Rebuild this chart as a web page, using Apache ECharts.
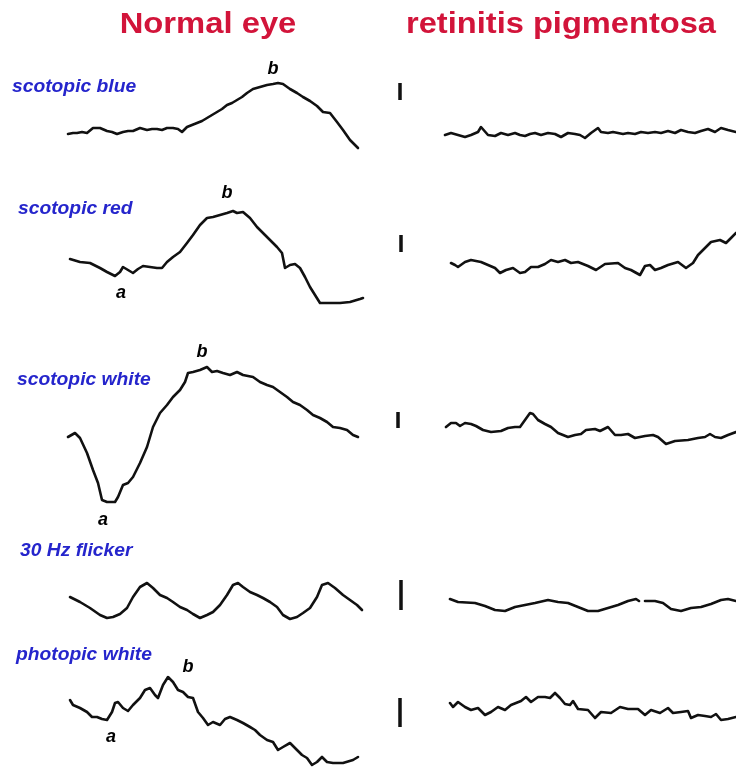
<!DOCTYPE html>
<html>
<head>
<meta charset="utf-8">
<script src="https://cdn.jsdelivr.net/npm/echarts@6/dist/echarts.min.js"></script>
<style>
html,body{margin:0;padding:0;background:#fff;}
#chart{width:736px;height:767px;}
</style>
</head>
<body>
<div id="chart"></div>
<script>
// Column headers and row (stimulus) names
const columnTitles = ['Normal eye', 'retinitis pigmentosa'];
const stimuli = ['scotopic blue', 'scotopic red', 'scotopic white', '30 Hz flicker', 'photopic white'];

// Traces: [time (samples), amplitude (arb. units)]
const blueNormal = [[0,-4],[5,-3],[9,-3],[14,-2],[19,-3],[25,2],[32,2],[39,-1],[44,-2],[49,-4],[55,-2],[60,-1],[65,-1],[72,2],[79,0],[84,1],[89,1],[94,0],[99,2],[105,2],[110,1],[114,-2],[119,3],[124,5],[129,7],[134,9],[139,12],[144,15],[149,18],[154,21],[159,25],[164,27],[169,30],[174,33],[179,37],[185,41],[192,43],[199,45],[205,46],[210,47],[215,46],[222,41],[229,37],[235,33],[242,29],[249,24],[255,18],[262,17],[269,8],[275,0],[282,-10],[290,-18]];
const blueRP = [[-2,-5],[4,-3],[11,-5],[18,-7],[24,-5],[31,-2],[34,3],[41,-5],[48,-6],[54,-3],[61,-5],[68,-3],[73,-5],[78,-6],[83,-4],[88,-3],[94,-5],[101,-3],[108,-4],[114,-7],[121,-3],[128,-4],[133,-5],[138,-8],[144,-3],[151,2],[154,-2],[161,-3],[166,-2],[171,-3],[176,-4],[181,-3],[188,-4],[194,-2],[201,-3],[208,-2],[214,-3],[221,-1],[228,-3],[234,0],[241,-2],[248,-3],[254,-1],[261,1],[268,-2],[274,2],[281,0],[289,-2]];
const redNormal = [[2,6],[12,3],[22,2],[32,-3],[39,-7],[47,-11],[52,-7],[55,-2],[60,-5],[65,-8],[70,-4],[75,-1],[82,-2],[89,-3],[94,-3],[99,3],[105,8],[112,13],[119,22],[125,30],[132,40],[139,47],[145,48],[152,50],[159,52],[165,54],[169,52],[175,53],[182,47],[189,38],[195,32],[202,25],[209,18],[214,12],[217,-3],[222,0],[227,1],[232,-3],[237,-12],[242,-22],[247,-30],[252,-38],[262,-38],[272,-38],[282,-37],[292,-34],[295,-33]];
const redRP = [[4,2],[8,0],[11,-2],[18,3],[24,5],[34,3],[41,0],[48,-3],[53,-8],[59,-5],[66,-3],[73,-8],[78,-7],[84,-2],[91,-2],[98,1],[104,5],[111,3],[118,5],[124,2],[131,3],[141,-1],[149,-5],[158,1],[171,2],[178,-3],[184,-5],[193,-10],[198,-1],[203,0],[208,-5],[214,-3],[221,0],[231,3],[239,-3],[246,2],[251,10],[258,17],[264,23],[273,25],[279,22],[284,27],[289,32]];
const whiteNormal = [[0,-7],[7,-3],[12,-8],[19,-23],[25,-40],[30,-53],[34,-70],[39,-72],[47,-72],[50,-67],[55,-55],[60,-53],[65,-47],[72,-33],[79,-17],[85,3],[92,17],[99,25],[105,33],[112,40],[117,48],[120,57],[125,58],[132,60],[139,63],[144,58],[149,59],[155,57],[162,55],[169,58],[175,55],[185,53],[192,48],[199,45],[205,43],[212,38],[219,33],[225,28],[232,25],[239,20],[245,15],[252,12],[259,8],[265,3],[272,2],[279,0],[285,-5],[290,-7]];
const whiteRP = [[-1,3],[4,7],[9,7],[13,4],[18,7],[24,6],[29,4],[36,0],[44,-2],[54,-1],[61,2],[68,3],[73,3],[78,10],[83,17],[86,16],[91,10],[98,6],[104,3],[111,-3],[121,-7],[128,-5],[134,-4],[139,0],[148,1],[153,-1],[161,3],[168,-5],[174,-5],[181,-4],[188,-8],[198,-6],[206,-5],[211,-7],[219,-14],[228,-11],[241,-10],[251,-8],[258,-7],[263,-4],[268,-7],[274,-8],[281,-5],[289,-2]];
const flickerNormal = [[2,3],[12,-2],[22,-8],[32,-15],[39,-18],[45,-17],[52,-14],[59,-8],[65,3],[72,13],[79,17],[85,12],[92,5],[99,2],[105,-2],[112,-7],[119,-10],[125,-14],[132,-18],[139,-15],[145,-12],[152,-5],[159,5],[165,15],[170,17],[175,13],[182,8],[189,5],[195,2],[202,-2],[209,-7],[215,-15],[222,-19],[229,-17],[235,-13],[242,-8],[249,3],[254,15],[260,17],[267,12],[275,5],[282,0],[289,-5],[294,-10]];
const flickerRP = [[3,1],[11,-2],[28,-3],[38,-6],[48,-10],[58,-11],[68,-7],[78,-5],[88,-3],[101,0],[111,-2],[121,-3],[131,-7],[141,-11],[151,-11],[161,-8],[171,-5],[181,-1],[189,1],[192,-1],null,[198,-1],[208,-1],[216,-3],[224,-9],[234,-11],[244,-8],[254,-7],[264,-4],[274,0],[281,1],[289,-1]];
const photopicNormal = [[2,5],[5,0],[12,-3],[19,-7],[24,-12],[29,-12],[34,-14],[39,-15],[44,-7],[47,2],[50,3],[55,-3],[60,-6],[65,0],[72,7],[77,15],[82,17],[87,10],[90,7],[95,20],[100,28],[105,23],[110,15],[115,13],[120,8],[125,7],[130,-7],[135,-13],[140,-20],[145,-17],[152,-20],[157,-14],[162,-12],[169,-15],[175,-18],[182,-22],[187,-25],[192,-30],[199,-35],[205,-37],[210,-45],[215,-42],[222,-38],[227,-43],[234,-50],[239,-53],[244,-60],[249,-57],[254,-52],[259,-57],[265,-58],[275,-58],[285,-55],[290,-52]];
const photopicRP = [[3,2],[6,-2],[11,3],[18,-2],[24,-5],[31,-3],[38,-10],[44,-7],[51,-2],[58,-5],[64,0],[74,4],[79,8],[84,3],[91,8],[98,8],[103,7],[108,12],[113,7],[118,1],[123,0],[126,4],[131,-4],[141,-5],[148,-13],[154,-7],[164,-8],[173,-2],[181,-4],[191,-4],[198,-10],[204,-5],[213,-8],[221,-3],[226,-8],[234,-7],[241,-6],[244,-13],[251,-10],[258,-11],[264,-12],[269,-9],[274,-15],[281,-14],[289,-12]];

// Calibration bars per row: [time, low amplitude, high amplitude]
const calibrationBars = [[-47,30,47],[-46,13,30],[-49,2,18],[-46,-10,20],[-47,-22,7]];

// Wave annotations (left column): [row, time, amplitude, label]
const waveMarks = [[0,205,61,'b'],[1,159,72,'b'],[1,53,-28,'a'],[2,134,78,'b'],[2,35,-90,'a'],[4,120,38,'b'],[4,43,-32,'a']];

const normalTraces = [blueNormal, redNormal, whiteNormal, flickerNormal, photopicNormal];
const rpTraces = [blueRP, redRP, whiteRP, flickerRP, photopicRP];
const rowBaselines = [130, 265, 430, 600, 705];
const labelCenters = [87, 209, 380, 551, 655];
const labelLefts = [12, 18, 17, 20, 16];

const AMP_TOP = 100, AMP_BOTTOM = -60;
const grids = [], xAxes = [], yAxes = [], series = [];
rowBaselines.forEach(function (base, r) {
  const top = base - AMP_TOP, height = AMP_TOP - AMP_BOTTOM;
  grids.push({left: 68, top: top, width: 295, height: height});
  grids.push({left: 390, top: top, width: 346, height: height});
  xAxes.push({type: 'value', gridIndex: 2 * r, min: 0, max: 295, show: false});
  xAxes.push({type: 'value', gridIndex: 2 * r + 1, min: -57, max: 289, show: false});
  yAxes.push({type: 'value', gridIndex: 2 * r, min: AMP_BOTTOM, max: AMP_TOP, show: false});
  yAxes.push({type: 'value', gridIndex: 2 * r + 1, min: AMP_BOTTOM, max: AMP_TOP, show: false});
  const lineStyle = {color: '#111111', width: 2.6, join: 'round', cap: 'round'};
  series.push({type: 'line', xAxisIndex: 2 * r, yAxisIndex: 2 * r, data: normalTraces[r], showSymbol: false, symbol: 'none', lineStyle: lineStyle, clip: false, connectNulls: false});
  series.push({type: 'line', xAxisIndex: 2 * r + 1, yAxisIndex: 2 * r + 1, data: rpTraces[r], showSymbol: false, symbol: 'none', lineStyle: lineStyle, clip: false, connectNulls: false});
  const cb = calibrationBars[r];
  series.push({type: 'line', xAxisIndex: 2 * r + 1, yAxisIndex: 2 * r + 1, data: [[cb[0], cb[1]], [cb[0], cb[2]]], symbol: 'none', lineStyle: {color: '#111111', width: 3.5, cap: 'butt'}, clip: false});
  const marks = waveMarks.filter(function (m) { return m[0] === r; });
  if (marks.length) {
    series.push({type: 'scatter', xAxisIndex: 2 * r, yAxisIndex: 2 * r, symbolSize: 0,
      itemStyle: {opacity: 1},
      data: marks.map(function (m) { return {value: [m[1], m[2]], name: m[3]}; }),
      label: {show: true, position: 'inside', formatter: '{b}', color: '#000000', fontSize: 18, fontWeight: 'bold', fontStyle: 'italic', fontFamily: 'Liberation Sans, Arial, sans-serif'},
      clip: false});
  }
});

const graphics = [];
graphics.push({type: 'text', x: 208, y: 25, scaleX: 1.13, style: {text: columnTitles[0], fill: '#d2143a', font: 'bold 29px "Liberation Sans", Arial, sans-serif', textAlign: 'center', textVerticalAlign: 'middle'}});
graphics.push({type: 'text', x: 561, y: 25, scaleX: 1.125, style: {text: columnTitles[1], fill: '#d2143a', font: 'bold 29px "Liberation Sans", Arial, sans-serif', textAlign: 'center', textVerticalAlign: 'middle'}});
stimuli.forEach(function (s, r) {
  graphics.push({type: 'text', x: labelLefts[r], y: labelCenters[r], scaleX: 1.07, style: {text: s, fill: '#2525cc', font: 'italic bold 18px "Liberation Sans", Arial, sans-serif', textAlign: 'left', textVerticalAlign: 'middle'}});
});

const chart = echarts.init(document.getElementById('chart'), null, {renderer: 'canvas'});
chart.setOption({
  animation: false,
  backgroundColor: '#ffffff',
  grid: grids,
  xAxis: xAxes,
  yAxis: yAxes,
  series: series,
  graphic: graphics
});
</script>
</body>
</html>
